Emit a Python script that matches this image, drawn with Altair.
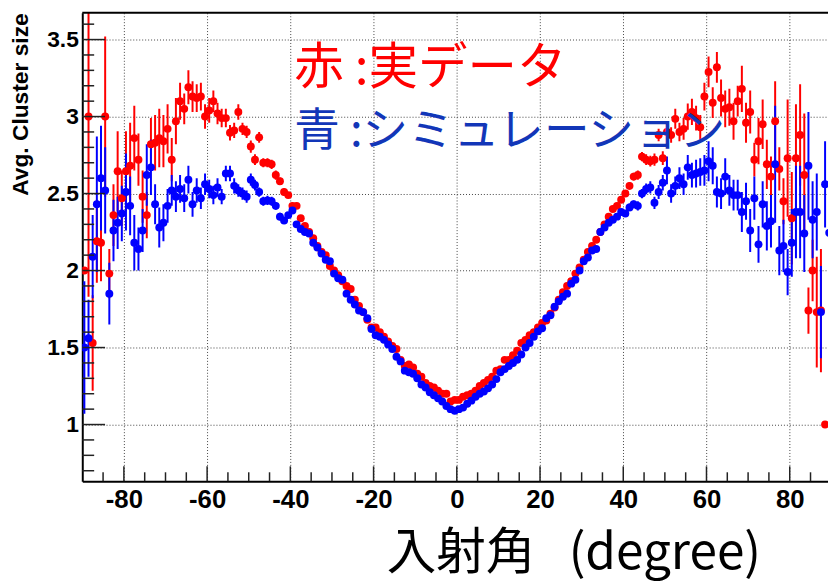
import altair as alt
import pandas as pd

# bin centres of the incidence angle (degree)
ANGLE = [a + 0.5 for a in range(-90, 90)]

# red: real data (avg. cluster size), -89.5 ... 89.5
RED = [
    2.00, 3.00, 1.53, 2.19, 2.18, 3.00, 1.98, 2.36, 2.645, 2.47,
    2.645, 2.68, 2.86, 2.72, 2.48, 2.36, 2.82, 2.83, 2.86, 2.84,
    2.92, 2.72, 2.97, 3.10, 3.05, 3.19, 3.13, 3.12, 3.13, 3.00,
    3.04, 3.10, 3.02, 2.99, 2.99, 2.895, 2.91, 3.03, 2.92, 2.90,
    2.805, 2.72, 2.865, 2.70, 2.70, 2.69, 2.62, 2.58, 2.51, 2.49,
    2.42, 2.42, 2.34, 2.29, 2.25, 2.21, 2.16, 2.12, 2.10, 2.03,
    2.00, 1.97, 1.93, 1.90, 1.88, 1.81, 1.77, 1.73, 1.68, 1.63,
    1.63, 1.60, 1.57, 1.54, 1.51, 1.49, 1.42, 1.38, 1.39, 1.37,
    1.33, 1.31, 1.27, 1.25, 1.24, 1.22, 1.20, 1.20, 1.15, 1.16,
    1.16, 1.18, 1.19, 1.20, 1.22, 1.25, 1.27, 1.29, 1.31, 1.35,
    1.36, 1.42, 1.42, 1.45, 1.48, 1.53, 1.55, 1.58, 1.60, 1.63,
    1.66, 1.675, 1.72, 1.76, 1.81, 1.86, 1.90, 1.93, 1.98, 2.02,
    2.07, 2.12, 2.16, 2.20, 2.25, 2.30, 2.35, 2.40, 2.42, 2.46,
    2.50, 2.55, 2.61, 2.62, 2.74, 2.72, 2.71, 2.72, 2.88, 2.73,
    2.90, 2.88, 2.985, 2.90, 2.92, 3.00, 3.03, 2.99, 2.93, 3.13,
    3.29, 3.09, 3.32, 3.12, 3.05, 3.06, 2.97, 3.10, 3.18, 2.96,
    3.03, 2.72, 2.84, 2.95, 2.69, 2.61, 2.97, 2.66, 2.45, 2.73,
    2.34, 2.73, 2.88, 2.62, 1.74, 2.00, 1.73, 1.74, 1.00, None,
]
RED_ERR = [
    0.00, 1.17, 0.31, 0.27, 0.25, 0.52, 0.16, 0.20, 0.26, 0.18,
    0.26, 0.28, 0.21, 0.17, 0.17, 0.15, 0.17, 0.18, 0.19, 0.17,
    0.16, 0.14, 0.15, 0.12, 0.10, 0.11, 0.10, 0.09, 0.09, 0.08,
    0.08, 0.07, 0.07, 0.06, 0.06, 0.05, 0.05, 0.05, 0.04, 0.04,
    0.04, 0.035, 0.035, 0.03, 0.03, 0.03, 0.03, 0.025, 0.025, 0.02,
    0.02, 0.02, 0.02, 0.02, 0.02, 0.02, 0.02, 0.02, 0.02, 0.02,
    0.015, 0.015, 0.015, 0.015, 0.015, 0.015, 0.015, 0.015, 0.015, 0.015,
    0.015, 0.015, 0.015, 0.015, 0.015, 0.015, 0.015, 0.015, 0.015, 0.015,
    0.01, 0.01, 0.01, 0.01, 0.01, 0.01, 0.01, 0.01, 0.01, 0.01,
    0.01, 0.01, 0.01, 0.01, 0.01, 0.01, 0.01, 0.01, 0.01, 0.01,
    0.015, 0.015, 0.015, 0.015, 0.015, 0.015, 0.015, 0.015, 0.015, 0.015,
    0.015, 0.015, 0.015, 0.015, 0.015, 0.015, 0.015, 0.015, 0.015, 0.015,
    0.02, 0.02, 0.02, 0.02, 0.02, 0.02, 0.02, 0.02, 0.02, 0.02,
    0.02, 0.025, 0.025, 0.03, 0.03, 0.035, 0.035, 0.04, 0.04, 0.045,
    0.05, 0.05, 0.065, 0.06, 0.07, 0.085, 0.085, 0.08, 0.08, 0.09,
    0.10, 0.10, 0.10, 0.12, 0.12, 0.12, 0.12, 0.10, 0.15, 0.13,
    0.14, 0.11, 0.15, 0.16, 0.16, 0.13, 0.26, 0.14, 0.15, 0.38,
    0.30, 0.35, 0.33, 0.40, 0.15, 0.20, 0.36, 0.40, 0.00, 0.00,
]

# blue: simulation
BLUE = [
    1.50, 1.56, 2.09, 2.43, 2.60, 2.52, 1.85, 2.26, 2.31, 2.37,
    2.51, 2.42, 2.18, 2.14, 2.26, 2.62, 2.67, 2.43, 2.28, 2.31,
    2.42, 2.52, 2.48, 2.53, 2.47, 2.59, 2.43, 2.52, 2.47, 2.56,
    2.53, 2.49, 2.54, 2.48, 2.63, 2.63, 2.55, 2.52, 2.50, 2.48,
    2.59, 2.555, 2.51, 2.45, 2.455, 2.45, 2.42, 2.35, 2.325, 2.36,
    2.39, 2.30, 2.27, 2.25, 2.24, 2.18, 2.15, 2.11, 2.07, 2.06,
    1.98, 1.95, 1.94, 1.85, 1.81, 1.78, 1.74, 1.73, 1.69, 1.62,
    1.58, 1.57, 1.55, 1.52, 1.49, 1.44, 1.41, 1.35, 1.34, 1.33,
    1.30, 1.26, 1.24, 1.21, 1.19, 1.17, 1.15, 1.12, 1.10, 1.09,
    1.10, 1.11, 1.135, 1.155, 1.18, 1.20, 1.215, 1.235, 1.26, 1.295,
    1.34, 1.36, 1.38, 1.40, 1.42, 1.455, 1.50, 1.53, 1.57, 1.605,
    1.625, 1.69, 1.71, 1.765, 1.80, 1.83, 1.85, 1.915, 1.94, 2.00,
    2.06, 2.085, 2.13, 2.14, 2.25, 2.28, 2.31, 2.33, 2.35, 2.38,
    2.37, 2.41, 2.43, 2.42, 2.50, 2.53, 2.54, 2.44, 2.51, 2.57,
    2.65, 2.50, 2.55, 2.60, 2.56, 2.67, 2.62, 2.63, 2.64, 2.65,
    2.71, 2.68, 2.51, 2.50, 2.61, 2.52, 2.49, 2.49, 2.38, 2.45,
    2.26, 2.47, 2.17, 2.43, 2.29, 2.32, 2.69, 2.13, 2.16, 1.99,
    2.18, 2.38, 2.38, 2.24, 2.68, 2.33, 2.38, 1.73, 2.56, 2.245,
]
BLUE_ERR = [
    0.43, 0.25, 0.27, 0.44, 0.34, 0.28, 0.20, 0.20, 0.17, 0.18,
    0.25, 0.19, 0.18, 0.14, 0.14, 0.20, 0.18, 0.13, 0.13, 0.12,
    0.11, 0.10, 0.10, 0.09, 0.09, 0.09, 0.08, 0.08, 0.07, 0.07,
    0.06, 0.06, 0.06, 0.05, 0.05, 0.05, 0.05, 0.04, 0.04, 0.04,
    0.04, 0.035, 0.03, 0.03, 0.03, 0.03, 0.025, 0.025, 0.02, 0.02,
    0.02, 0.02, 0.02, 0.02, 0.02, 0.02, 0.02, 0.02, 0.02, 0.02,
    0.015, 0.015, 0.015, 0.015, 0.015, 0.015, 0.015, 0.015, 0.015, 0.015,
    0.015, 0.015, 0.015, 0.015, 0.015, 0.015, 0.015, 0.015, 0.015, 0.015,
    0.01, 0.01, 0.01, 0.01, 0.01, 0.01, 0.01, 0.01, 0.01, 0.01,
    0.01, 0.01, 0.01, 0.01, 0.01, 0.01, 0.01, 0.01, 0.01, 0.01,
    0.015, 0.015, 0.015, 0.015, 0.015, 0.015, 0.015, 0.015, 0.015, 0.015,
    0.015, 0.015, 0.015, 0.015, 0.015, 0.015, 0.015, 0.015, 0.015, 0.015,
    0.02, 0.02, 0.02, 0.02, 0.02, 0.02, 0.02, 0.02, 0.02, 0.02,
    0.02, 0.025, 0.025, 0.03, 0.03, 0.035, 0.04, 0.04, 0.045, 0.05,
    0.09, 0.06, 0.06, 0.07, 0.07, 0.08, 0.08, 0.09, 0.09, 0.10,
    0.13, 0.12, 0.10, 0.10, 0.12, 0.10, 0.10, 0.10, 0.13, 0.12,
    0.14, 0.14, 0.12, 0.15, 0.16, 0.17, 0.38, 0.16, 0.17, 0.15,
    0.22, 0.30, 0.30, 0.25, 0.35, 0.25, 0.25, 0.30, 0.28, 0.40,
]

X_LABELS = [-80, -60, -40, -20, 0, 20, 40, 60, 80]
X_MINOR = [-85, -75, -70, -65, -55, -50, -45, -35, -30, -25, -15, -10, -5,
           5, 10, 15, 25, 30, 35, 45, 50, 55, 65, 70, 75, 85]
Y_LABELS = [1.0, 1.5, 2.0, 2.5, 3.0, 3.5]
Y_MINOR = [0.7, 0.8, 0.9, 1.1, 1.2, 1.3, 1.4, 1.6, 1.7, 1.8, 1.9, 2.1, 2.2, 2.3,
           2.4, 2.6, 2.7, 2.8, 2.9, 3.1, 3.2, 3.3, 3.4, 3.6]

X_TITLE = "入射角\u00a0\u00a0\u00a0(degree)"
Y_TITLE = "Avg. Cluster size"
LEGEND_RED = "赤 :実データ"
LEGEND_BLUE = "青 :シミュレーション"

RED_C = "#ff0000"
BLUE_C = "#0000ff"
TEXT_BLUE = "#1236b8"


def series(vals, errs):
    rows = []
    for a, v, e in zip(ANGLE, vals, errs):
        if v is None:
            continue
        rows.append({"angle": a, "value": v, "lo": v - e, "hi": v + e})
    return pd.DataFrame(rows)


red_df = series(RED, RED_ERR)
blue_df = series(BLUE, BLUE_ERR)

W, H = 753, 473
xs = alt.Scale(domain=[-90, 89.2], nice=False, zero=False)
ys = alt.Scale(domain=[0.632, 3.674], nice=False, zero=False)

x_axis = alt.Axis(
    values=X_LABELS, labelExpr="'' + datum.value",
    grid=True, gridDash=[1, 2], gridColor="#444", gridWidth=1,
    ticks=False, domain=True, domainColor="black", domainWidth=2,
    labelFont="Liberation Sans", labelFontWeight="bold", labelFontSize=26,
    labelColor="black", labelPadding=6,
    title=X_TITLE, titleFont="Noto Sans CJK JP", titleFontSize=50,
    titleFontWeight="normal", titleColor="black",
    titleX=496, titleY=88, titleAlign="center", titleBaseline="alphabetic",
)
y_axis = alt.Axis(
    values=Y_LABELS, labelExpr="'' + datum.value",
    grid=True, gridDash=[1, 2], gridColor="#444", gridWidth=1,
    ticks=False, domain=True, domainColor="black", domainWidth=2,
    labelFont="Liberation Sans", labelFontWeight="bold", labelFontSize=23,
    labelColor="black", labelPadding=4,
    title=Y_TITLE, titleFont="Liberation Sans", titleFontSize=23,
    titleFontWeight="bold", titleColor="black",
    titleX=-62, titleY=0, titleAngle=270, titleAlign="right",
    titleBaseline="middle",
)

# layer that carries both axes (and their grids); the other layers share them
red_bars = alt.Chart(red_df).mark_rule(color=RED_C, strokeWidth=2, clip=True).encode(
    x=alt.X("angle:Q", scale=xs, axis=x_axis),
    y=alt.Y("lo:Q", scale=ys, axis=y_axis),
    y2="hi:Q",
)
blue_bars = alt.Chart(blue_df).mark_rule(color=BLUE_C, strokeWidth=2, clip=True).encode(
    x=alt.X("angle:Q", scale=xs),
    y=alt.Y("lo:Q", scale=ys),
    y2="hi:Q",
)
red_pts = alt.Chart(red_df).mark_circle(color=RED_C, size=64, opacity=1, clip=True).encode(
    x=alt.X("angle:Q", scale=xs),
    y=alt.Y("value:Q", scale=ys),
)
blue_pts = alt.Chart(blue_df).mark_circle(color=BLUE_C, size=64, opacity=1, clip=True).encode(
    x=alt.X("angle:Q", scale=xs),
    y=alt.Y("value:Q", scale=ys),
)

tick_color = "#222"
y_major = alt.Chart(pd.DataFrame({"v": Y_LABELS})).mark_rule(color=tick_color, strokeWidth=1.5).encode(
    y=alt.Y("v:Q", scale=ys), x=alt.value(0), x2=alt.value(23))
y_minor = alt.Chart(pd.DataFrame({"v": Y_MINOR})).mark_rule(color=tick_color, strokeWidth=1.5).encode(
    y=alt.Y("v:Q", scale=ys), x=alt.value(0), x2=alt.value(12))
x_major = alt.Chart(pd.DataFrame({"v": X_LABELS})).mark_rule(color=tick_color, strokeWidth=1.5).encode(
    x=alt.X("v:Q", scale=xs), y=alt.value(H), y2=alt.value(H - 15))
x_minor = alt.Chart(pd.DataFrame({"v": X_MINOR})).mark_rule(color=tick_color, strokeWidth=1.5).encode(
    x=alt.X("v:Q", scale=xs), y=alt.value(H), y2=alt.value(H - 9))
# top edge of the frame (the right edge lies outside the picture)
top_edge = alt.Chart(pd.DataFrame({"v": [0]})).mark_rule(color="black", strokeWidth=2).encode(
    x=alt.value(0), x2=alt.value(W), y=alt.value(0))

leg_red = alt.Chart(pd.DataFrame({"t": [LEGEND_RED]})).mark_text(
    align="left", baseline="middle", font="Noto Sans CJK JP", fontSize=50, color=RED_C
).encode(text="t:N", x=alt.value(214), y=alt.value(57))
leg_blue = alt.Chart(pd.DataFrame({"t": [LEGEND_BLUE]})).mark_text(
    align="left", baseline="middle", font="Noto Sans CJK JP", fontSize=46, color=TEXT_BLUE
).encode(text="t:N", x=alt.value(214), y=alt.value(121))

chart = alt.layer(
    red_bars, blue_bars, red_pts, blue_pts,
    y_major, y_minor, x_major, x_minor, top_edge,
    leg_red, leg_blue,
).properties(
    width=W, height=H,
    autosize=alt.AutoSizeParams(type="none"),
    padding={"left": 75, "top": 2, "right": 0, "bottom": 102},
    background="white",
).configure_view(stroke=None)

chart.save("out.html", embed_options={"renderer": "svg", "actions": False})
